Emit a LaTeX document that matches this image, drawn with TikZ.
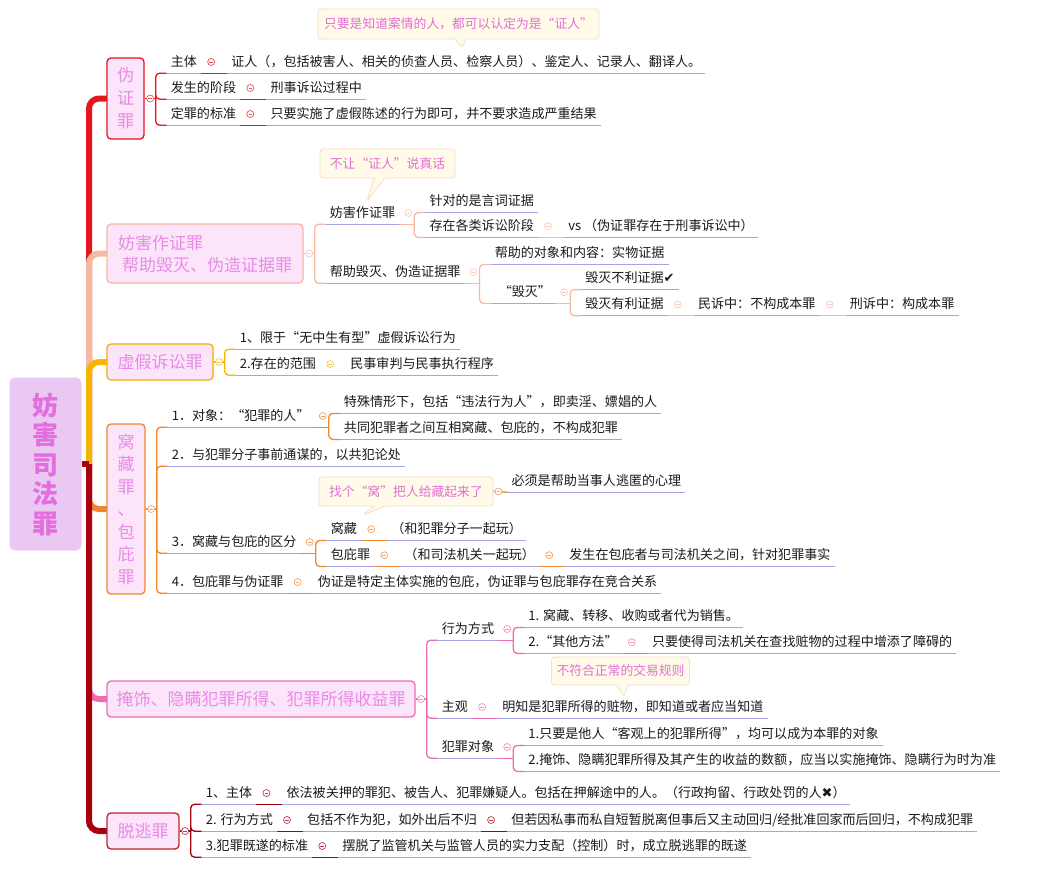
\documentclass[tikz,border=0pt]{standalone}
\usepackage{fontspec}
\setmainfont{Noto Sans CJK SC}
\newfontfamily\symf{DejaVu Sans}
\usetikzlibrary{positioning,calc,shapes.callouts}
\definecolor{redc}{HTML}{E3161F}
\definecolor{salc}{HTML}{F6B9A3}
\definecolor{yelc}{HTML}{F7B500}
\definecolor{orac}{HTML}{F0862E}
\definecolor{pinc}{HTML}{EE6DB0}
\definecolor{drc}{HTML}{A8000E}
\definecolor{boxfill}{HTML}{FCE5FA}
\definecolor{boxtext}{HTML}{E68CE6}
\definecolor{rootfill}{HTML}{EBC8F1}
\definecolor{roottext}{HTML}{E36FDF}
\definecolor{ulc}{HTML}{A3A4E4}
\definecolor{calfill}{HTML}{FFFBE8}
\definecolor{caldraw}{HTML}{F5DCCB}
\definecolor{caltext}{HTML}{E26ED6}
\definecolor{txtc}{HTML}{1A1A1A}
\tikzset{
  txt/.style={font=\fontsize{13.05}{16}\selectfont, text=txtc, inner xsep=4pt, inner ysep=4.5pt, text height=11pt, text depth=2pt},
  ul/.style={draw=ulc, line width=1.2pt},
  cn/.style={draw=#1, line width=1.3pt},
  tog/.style={circle, draw=#1!75, fill=white, line width=0.7pt, inner sep=0pt, minimum size=7pt,
    path picture={\draw[#1!75, line width=0.6pt] ([xshift=-1.8pt]path picture bounding box.center) -- ([xshift=1.8pt]path picture bounding box.center);}},
  mbox/.style={draw=#1, fill=boxfill, rounded corners=4pt, line width=1.3pt, text=boxtext, inner sep=0pt, align=center, font=\fontsize{17}{23}\selectfont},
  trunk/.style={line width=6pt, rounded corners=10pt},
  cal/.style={rectangle callout, fill=calfill, draw=caldraw, line width=0.8pt, rounded corners=3pt, text=caltext, inner sep=0pt, callout pointer width=11pt, font=\fontsize{12.8}{16}\selectfont}
}
% box -> bracket
\newcommand\boxbr[3]{%
  \coordinate (#2) at ([xshift=11pt]#1.east);
  \draw[cn=#3] (#1.east) -- (#2);
  \node[tog=#3] (#2t) at ([xshift=5.5pt]#1.east) {};}
% topic -> bracket
\newcommand\topbr[3]{%
  \coordinate (#2) at ([xshift=15pt]#1.south east);
  \draw[cn=#3] (#1.south east) -- (#2);
  \node[tog=#3] (#2t) at ([xshift=9pt]#1.east) {};}
% bracket child
\newcommand\bk[5]{%
  \node[txt, anchor=west] (#2) at ($(#1)+(11,#4)$) {#5};
  \draw[ul] (#2.south west) -- (#2.south east);
  \draw[cn=#3, rounded corners=4pt] (#1) |- (#2.south west);}
% chained child
\newcommand\chn[4]{%
  \node[txt, right=26pt of #1] (#2) {#4};
  \draw[ul] (#2.south west) -- (#2.south east);
  \draw[cn=#3] (#1.south east) -- (#2.south west);
  \node[tog=#3] (#2t) at ([xshift=10pt]#1.east) {};}
\begin{document}
\begin{tikzpicture}[x=1pt,y=-1pt]
\fill[white] (0,0) rectangle (1041,879);
\useasboundingbox (0,0) rectangle (1041,879);

% root and main boxes
\node[fill=rootfill, rounded corners=6pt, minimum width=72pt, minimum height=173pt, inner sep=0pt, align=center,
  text=roottext, font=\bfseries\fontsize{26}{29.5}\selectfont] (root) at (45.5,464) {妨\\害\\司\\法\\罪};
\coordinate (hub) at (89,464);
\draw[trunk, redc] (hub) |- (125,98.5) coordinate (tA);
\draw[trunk, salc] (hub) |- (125,253.5) coordinate (tB);
\draw[trunk, yelc] (hub) |- (125,362) coordinate (tC);
\draw[trunk, orac] (hub) |- (125,509) coordinate (tD);
\draw[trunk, pinc] (hub) |- (125,699) coordinate (tE);
\draw[trunk, drc] (hub) |- (125,831) coordinate (tF);
\draw[line width=6pt, drc] (root.east) -- (hub);

\node[mbox=redc, minimum width=37pt, minimum height=81pt] (wz) at (125.5,98.5) {伪\\证\\罪};
\node[mbox=salc, minimum width=196pt, minimum height=59pt, align=left, font=\fontsize{17}{22}\selectfont] (fh) at (205,253.5) {妨害作证罪\\\hspace{4pt}帮助毁灭、伪造证据罪};
\node[mbox=yelc!85!orange, minimum width=106pt, minimum height=36pt] (xj) at (160,362) {虚假诉讼罪};
\node[mbox=orac, minimum width=38pt, minimum height=170pt, font=\fontsize{17}{22.5}\selectfont] (wc) at (126,509) {窝\\藏\\罪\\、\\包\\庇\\罪};
\node[mbox=pinc, minimum width=308pt, minimum height=36pt] (ys) at (261,699) {掩饰、隐瞒犯罪所得、犯罪所得收益罪};
\node[mbox=drc!85, minimum width=72pt, minimum height=36pt] (tt) at (143,831) {脱逃罪};

% callouts
\node[cal, minimum width=281pt, minimum height=30pt, callout absolute pointer={(462,48)}] (ca) at (458.5,24) {只要是知道案情的人，都可以认定为是“证人”};
\node[cal, minimum width=135pt, minimum height=29pt, callout absolute pointer={(367,201)}] (cb) at (387.5,163.5) {不让“证人”说真话};
\node[cal, minimum width=174pt, minimum height=29pt, callout absolute pointer={(363,515)}] (cw) at (406,491.5) {找个“窝”把人给藏起来了};
\node[cal, minimum width=138pt, minimum height=28pt, callout absolute pointer={(624,697)}] (ce) at (620.5,671) {不符合正常的交易规则};

% A 伪证罪
\boxbr{wz}{wzb}{redc}
\bk{wzb}{a1}{redc}{-36.5}{主体}
\bk{wzb}{a2}{redc}{-10.5}{发生的阶段}
\bk{wzb}{a3}{redc}{15.5}{定罪的标准}
\chn{a1}{a1c}{redc}{证人（，包括被害人、相关的侦查人员、检察人员）、鉴定人、记录人、翻译人。}
\chn{a2}{a2c}{redc}{刑事诉讼过程中}
\chn{a3}{a3c}{redc}{只要实施了虚假陈述的行为即可，并不要求造成严重结果}

% B 妨害作证罪
\boxbr{fh}{fhb}{salc}
\bk{fhb}{b1}{salc}{-40.5}{妨害作证罪}
\bk{fhb}{b2}{salc}{18.5}{帮助毁灭、伪造证据罪}
\topbr{b1}{b1b}{salc}
\bk{b1b}{b11}{salc}{-23}{针对的是言词证据}
\bk{b1b}{b12}{salc}{2}{存在各类诉讼阶段}
\chn{b12}{b12c}{salc}{vs （伪证罪存在于刑事诉讼中）}
\topbr{b2}{b2b}{salc}
\bk{b2b}{b21}{salc}{-30}{帮助的对象和内容：实物证据}
\bk{b2b}{b22}{salc}{9}{\hspace{4pt}“毁灭”\hspace{4pt}}
\topbr{b22}{b22b}{salc}
\bk{b22b}{b221}{salc}{-25}{毁灭不利证据{\symf ✔}}
\bk{b22b}{b222}{salc}{1}{毁灭有利证据}
\chn{b222}{b222c}{salc}{民诉中：不构成本罪}
\chn{b222c}{b222d}{salc}{刑诉中：构成本罪}

% C 虚假诉讼罪
\boxbr{xj}{xjb}{yelc}
\bk{xjb}{c1}{yelc}{-24}{1、限于“无中生有型”虚假诉讼行为}
\bk{xjb}{c2}{yelc}{2}{2.存在的范围}
\chn{c2}{c2c}{yelc}{民事审判与民事执行程序}

% D 窝藏罪、包庇罪
\boxbr{wc}{wcb}{orac}
\bk{wcb}{d1}{orac}{-93}{1．对象：“犯罪的人”}
\bk{wcb}{d2}{orac}{-54}{2．与犯罪分子事前通谋的，以共犯论处}
\bk{wcb}{d3}{orac}{33}{3．窝藏与包庇的区分}
\bk{wcb}{d4}{orac}{73}{4．包庇罪与伪证罪}
\topbr{d1}{d1b}{orac}
\bk{d1b}{d11}{orac}{-25}{特殊情形下，包括“违法行为人”，即卖淫、嫖娼的人}
\bk{d1b}{d12}{orac}{1}{共同犯罪者之间互相窝藏、包庇的，不构成犯罪}
\topbr{d3}{d3b}{orac}
\bk{d3b}{d31}{orac}{-24}{窝藏}
\bk{d3b}{d32}{orac}{2}{包庇罪}
\chn{d31}{d31c}{orac}{（和犯罪分子一起玩）}
\chn{d32}{d32c}{orac}{（和司法机关一起玩）}
\chn{d32c}{d32d}{orac}{发生在包庇者与司法机关之间，针对犯罪事实}
\chn{d4}{d4c}{orac}{伪证是特定主体实施的包庇，伪证罪与包庇罪存在竞合关系}
\node[txt, anchor=west] (cwk) at ($(cw.east)+(14,-10.5)$) {必须是帮助当事人逃匿的心理};
\draw[ul] (cwk.south west) -- (cwk.south east);
\draw[cn=orac] (cw.east) -- (cwk.south west);
\node[tog=orac] (cwt) at ([xshift=5pt]cw.east) {};

% E 掩饰、隐瞒
\boxbr{ys}{ysb}{pinc}
\bk{ysb}{e1}{pinc}{-70}{行为方式}
\bk{ysb}{e2}{pinc}{8}{主观}
\bk{ysb}{e3}{pinc}{48}{犯罪对象}
\topbr{e1}{e1b}{pinc}
\bk{e1b}{e11}{pinc}{-24}{1. 窝藏、转移、收购或者代为销售。}
\bk{e1b}{e12}{pinc}{2}{2.“其他方法”}
\chn{e12}{e12c}{pinc}{只要使得司法机关在查找赃物的过程中增添了障碍的}
\chn{e2}{e2c}{pinc}{明知是犯罪所得的赃物，即知道或者应当知道}
\topbr{e3}{e3b}{pinc}
\bk{e3b}{e31}{pinc}{-24}{1.只要是他人“客观上的犯罪所得”，均可以成为本罪的对象}
\bk{e3b}{e32}{pinc}{2}{2.掩饰、隐瞒犯罪所得及其产生的收益的数额，应当以实施掩饰、隐瞒行为时为准}

% F 脱逃罪
\boxbr{tt}{ttb}{drc}
\bk{ttb}{f1}{drc}{-38}{1、主体}
\bk{ttb}{f2}{drc}{-11}{2. 行为方式}
\bk{ttb}{f3}{drc}{15}{3.犯罪既遂的标准}
\chn{f1}{f1c}{drc}{依法被关押的罪犯、被告人、犯罪嫌疑人。包括在押解途中的人。（行政拘留、行政处罚的人{\symf ✖}）}
\chn{f2}{f2c}{drc}{包括不作为犯，如外出后不归}
\chn{f2c}{f2d}{drc}{但若因私事而私自短暂脱离但事后又主动回归/经批准回家而后回归，不构成犯罪}
\chn{f3}{f3c}{drc}{摆脱了监管机关与监管人员的实力支配（控制）时，成立脱逃罪的既遂}
\end{tikzpicture}
\end{document}
